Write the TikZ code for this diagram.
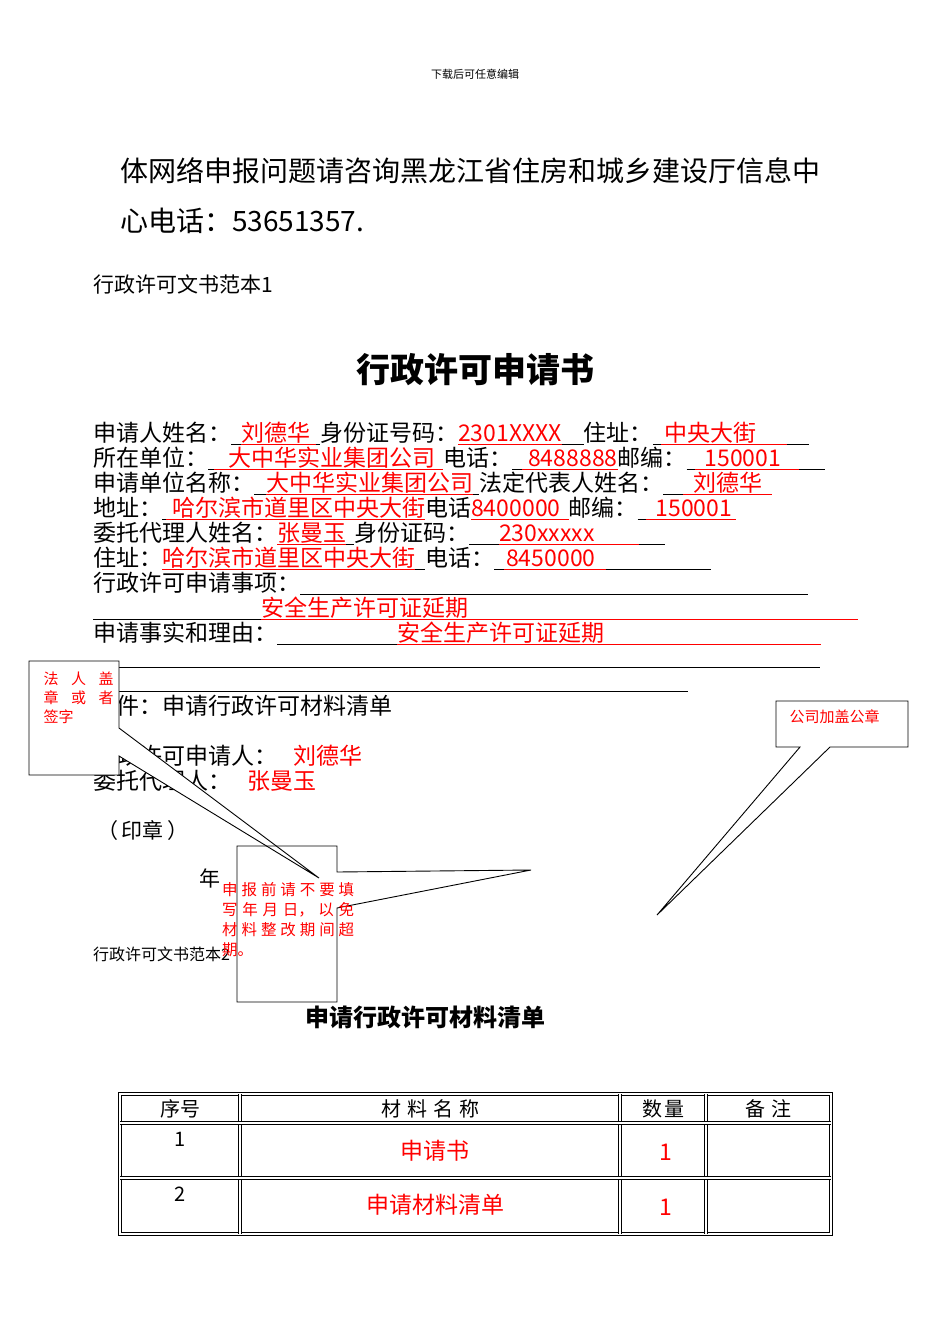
\documentclass[tikz,border=0pt]{standalone}
\usepackage{fontspec}
\setmainfont{Noto Sans CJK SC}
\usepackage{xcolor}
\newcommand\bl[1]{\rule[-4pt]{#1pt}{0.8pt}}
\newcommand\ru[1]{{\color{red}\setbox0\hbox{#1}\rlap{\rule[-4pt]{\wd0}{0.8pt}}\box0}}
\tikzset{
 txt/.style={anchor=base west,inner sep=0pt,font=\fontsize{23}{23}\selectfont},
 callout/.style={draw=black,line width=0.9pt},
 red/.style={text=red}
}
\begin{document}
\begin{tikzpicture}[x=1pt,y=-1pt]
\useasboundingbox[fill=white] (0,0) rectangle (950,1344);
\node[anchor=center,font=\fontsize{11}{11}\selectfont] (hdr) at (475,74) {下载后可任意编辑};
\node[txt,font=\fontsize{28}{28}\selectfont] (p1) at (120,181) {体网络申报问题请咨询黑龙江省住房和城乡建设厅信息中};
\node[txt,font=\fontsize{28}{28}\selectfont] (p2) at (120,231) {心电话：53651357.};
\node[txt,font=\fontsize{21}{21}\selectfont] (s1) at (93,292) {行政许可文书范本1};
\node[anchor=center,font=\fontsize{34}{34}\selectfont\bfseries] (title) at (475,370) {行政许可申请书};
\node[txt] (l1) at (93,441) {申请人姓名：\bl{10}\ru{刘德华\hspace{6pt}}\bl{4}身份证号码：\ru{2301XXXX}\bl{22}住址：\bl{8}\ru{\hspace{4pt}中央大街\hspace{30pt}}\bl{22}};
\node[txt] (l2) at (93,466) {所在单位：\bl{6}\ru{\hspace{14pt}大中华实业集团公司\hspace{8pt}}电话：\bl{10}\ru{\hspace{6pt}8488888}邮编：\bl{8}\ru{\hspace{10pt}150001\hspace{18pt}}\bl{26}};
\node[txt] (l3) at (93,491) {申请单位名称：\bl{12}\ru{大中华实业集团公司}\bl{6}法定代表人姓名：\bl{20}\ru{\hspace{10pt}刘德华\hspace{10pt}}};
\node[txt] (l4) at (93,516) {地址：\bl{4}\ru{\hspace{6pt}哈尔滨市道里区中央大街}电话\ru{8400000\hspace{8pt}}邮编：\bl{8}\ru{\hspace{10pt}150001\hspace{4pt}}};
\node[txt] (l5) at (93,541) {委托代理人姓名：\ru{张曼玉}\bl{8}身份证码：\bl{30}\ru{230xxxxx\hspace{44pt}}\bl{26}};
\node[txt] (l6) at (93,566) {住址：\ru{哈尔滨市道里区中央大街}\bl{10}电话：\bl{10}\ru{\hspace{2pt}8450000\hspace{10pt}}\bl{105}};
\node[txt] (l7) at (93,591) {行政许可申请事项：\bl{20}\bl{488}};
\node[txt] (l8) at (93,616) {\bl{168}\ru{安全生产许可证延期\hspace{390pt}}};
\node[txt] (l9) at (93,641) {申请事实和理由：\bl{120}\ru{安全生产许可证延期\hspace{217pt}}};
\coordinate (u1a) at (93,667); \coordinate (u1b) at (820,667);
\coordinate (u2a) at (93,691); \coordinate (u2b) at (688,691);
\draw[line width=0.8pt] (u1a) -- (u1b);
\draw[line width=0.8pt] (u2a) -- (u2b);
\node[txt] (att) at (93,714) {附件：申请行政许可材料清单};
\node[txt] (app) at (93,764) {行政许可申请人：\hspace{16pt}{\color{red}刘德华}};
\node[txt] (agt) at (93,789) {委托代理人：\hspace{16pt}{\color{red}张曼玉}};
\node[txt,font=\fontsize{21}{21}\selectfont] (seal) at (97,838) {（\,印章\,）};
\node[txt,font=\fontsize{21}{21}\selectfont] (yr) at (199,886) {年};
\node[txt,font=\fontsize{16}{16}\selectfont] (s2) at (93,960) {行政许可文书范本2};
\node[anchor=center,font=\fontsize{24}{24}\selectfont\bfseries] (t2) at (425,1017) {申请行政许可材料清单};
% callout 1
\coordinate (tip1) at (319,878);
\draw[callout,fill=white] (119,728) -- (119,661) -- (29,661) -- (29,775) -- (119,775) -- (119,756) -- (tip1) -- cycle;
\node[anchor=north west,align=left,text=red,font=\fontsize{15}{19}\selectfont,text width=70pt] (c1) at (40,668) {法\hfill 人\hfill 盖\\章\hfill 或\hfill 者\\签字};
% callout 2
\coordinate (tip2) at (531,870);
\draw[callout] (337,908) -- (337,1002) -- (237,1002) -- (237,846) -- (337,846) -- (337,872) -- (tip2) -- cycle;
\node[anchor=north west,align=left,text=red,font=\fontsize{15.5}{20}\selectfont,text width=132pt,inner sep=0pt] (c2) at (222,882) {申\hfill 报\hfill 前\hfill 请\hfill 不\hfill 要\hfill 填\\写\hfill 年\hfill 月\hfill 日，\hfill 以\hfill 免\\材\hfill 料\hfill 整\hfill 改\hfill 期\hfill 间\hfill 超\\期。};
% callout 3
\coordinate (tip3) at (657,915);
\draw[callout,fill=white] (800,747) -- (776,747) -- (776,701) -- (908,701) -- (908,747) -- (830,747) -- (tip3) -- cycle;
\node[anchor=west,text=red,font=\fontsize{15}{15}\selectfont] (c3) at (786,717) {公司加盖公章};
% table
\tikzset{dbl/.style={draw,double,double distance=1.6pt,line width=1pt}}
\draw[dbl] (120,1094) rectangle (831,1234);
\draw[dbl] (240,1094) -- (240,1234);
\draw[dbl] (620,1094) -- (620,1234);
\draw[dbl] (706,1094) -- (706,1234);
\draw[dbl] (120,1123) -- (831,1123);
\draw[dbl] (120,1178) -- (831,1178);
\tikzset{cell/.style={anchor=center,font=\fontsize{20}{20}\selectfont},
 rcell/.style={anchor=center,text=red,font=\fontsize{23}{23}\selectfont}}
\node[cell] (h1) at (180,1109) {序号};
\node[cell] (h2) at (430,1109) {材\hspace{6pt}料\hspace{6pt}名\hspace{6pt}称};
\node[cell] (h3) at (663,1109) {数\hspace{2pt}量};
\node[cell] (h4) at (768,1109) {备\hspace{6pt}注};
\node[cell] (n1) at (180,1139) {1};
\node[rcell] (m1) at (435,1151) {申请书};
\node[rcell] (q1) at (666,1152) {1};
\node[cell] (n2) at (180,1194) {2};
\node[rcell] (m2) at (435,1205) {申请材料清单};
\node[rcell] (q2) at (666,1207) {1};
\end{tikzpicture}
\end{document}
